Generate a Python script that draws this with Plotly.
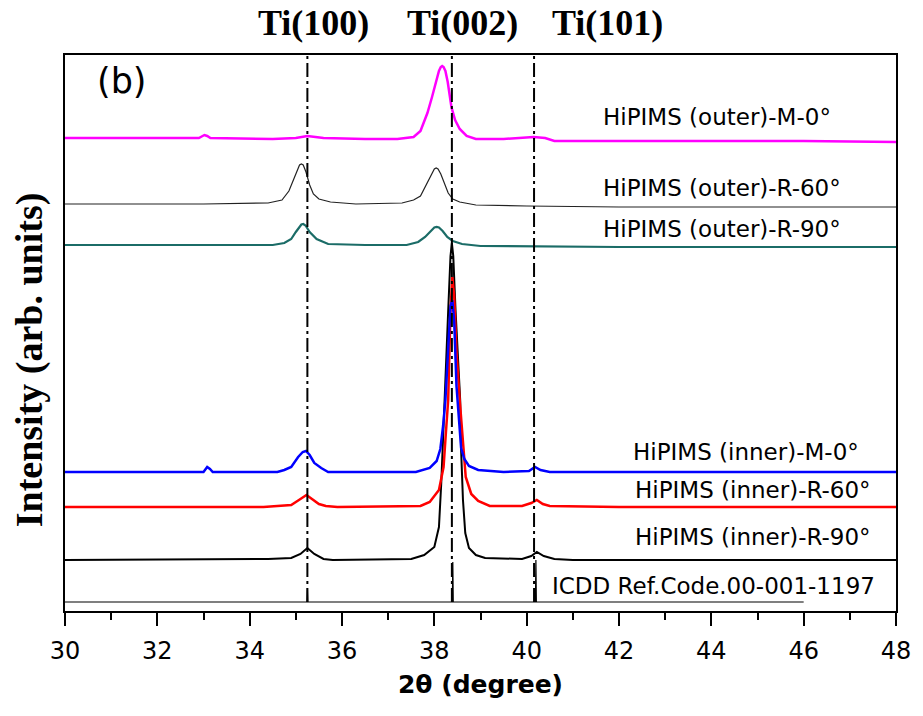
import plotly.graph_objects as go

# ---------------- data (2θ in degrees, intensity in arb. units, stacked) ----------------
x_outer_m0 = [30.0, 31.5, 32.9, 33.02, 33.08, 33.15, 34.5, 35.0, 35.25, 35.6, 36.5, 37.2, 37.55,
              37.7, 37.85, 37.95, 38.02, 38.1, 38.14, 38.17, 38.2, 38.24, 38.29, 38.37, 38.45,
              38.55, 38.7, 38.9, 39.5, 40.0, 40.15, 40.4, 40.6, 42.0, 44.0, 46.0, 48.0]
y_outer_m0 = [473, 473, 473, 476, 475, 473, 472, 473, 475, 473, 472, 472, 474,
              480, 498, 514, 527, 540, 544, 545, 544, 540, 529, 504, 491,
              482, 475, 472, 472, 473, 474, 473, 470, 470, 470, 470, 469]

x_outer_r60 = [30.0, 33.0, 34.4, 34.7, 34.85, 34.95, 35.03, 35.08, 35.12, 35.16, 35.22, 35.3,
               35.38, 35.5, 35.75, 36.3, 37.3, 37.55, 37.7, 37.82, 37.93, 38.0, 38.04, 38.08,
               38.14, 38.22, 38.3, 38.4, 38.55, 38.9, 40.0, 42.0, 48.0]
y_outer_r60 = [407, 407, 408, 411, 420, 432, 442, 446, 447, 446, 439, 426,
               417, 412, 409, 407, 408, 411, 415, 426, 437, 442, 443, 442,
               437, 427, 418, 412, 409, 406, 405, 404, 404]

x_outer_r90 = [30.0, 34.5, 34.75, 34.9, 35.0, 35.07, 35.12, 35.16, 35.21, 35.3, 35.45, 35.7,
               36.5, 37.4, 37.65, 37.8, 37.92, 38.0, 38.05, 38.1, 38.18, 38.28, 38.4, 38.6,
               39.0, 42.0, 48.0]
y_outer_r90 = [366, 366, 368, 372, 379, 384, 386.5, 387, 385.5, 379, 372, 367,
               366, 366, 369, 374, 380, 383.5, 384, 383.5, 380, 374, 370, 367,
               365, 364, 364]

x_inner_m0 = [30.0, 33.0, 33.08, 33.14, 33.2, 34.6, 34.75, 34.9, 35.05, 35.15, 35.22, 35.3, 35.4,
              35.55, 35.7, 37.6, 37.9, 38.05, 38.13, 38.19, 38.24, 38.3, 38.35, 38.39, 38.43,
              38.48, 38.53, 38.58, 38.65, 38.75, 38.95, 39.5, 40.05, 40.18, 40.3, 40.5, 48.0]
y_inner_m0 = [139, 139, 144, 142, 139, 139, 141, 144, 154, 159, 160, 156, 148,
              143, 139, 139, 143, 150, 162, 185, 211, 260, 305, 311, 290,
              225, 190, 163, 152, 145, 141, 139, 140, 144, 141, 139, 139]

x_inner_r60 = [30.0, 34.3, 34.6, 34.9, 35.1, 35.23, 35.35, 35.5, 35.65, 35.9, 37.7, 37.9, 38.1,
               38.2, 38.25, 38.3, 38.35, 38.39, 38.43, 38.48, 38.55, 38.61, 38.68, 38.8, 38.95,
               39.2, 39.9, 40.1, 40.22, 40.35, 40.5, 42.0, 48.0]
y_inner_r60 = [104, 104, 105, 106, 112, 116, 112, 107, 105, 104, 105, 109, 121,
               144, 178, 211, 300, 334, 315, 260, 211, 178, 134, 117, 110,
               105, 105, 108, 111, 107, 105, 104, 104]

x_inner_r90 = [30.0, 34.4, 34.9, 35.1, 35.25, 35.4, 35.6, 35.8, 37.5, 37.78, 38.0, 38.1, 38.15,
               38.19, 38.22, 38.3, 38.35, 38.38, 38.41, 38.46, 38.56, 38.58, 38.62, 38.67, 38.75,
               38.9, 39.1, 39.9, 40.1, 40.22, 40.37, 40.6, 41.0, 48.0]
y_inner_r90 = [51, 52, 53, 57, 63, 57, 52, 51, 52, 56, 64, 84, 128,
               178, 211, 300, 355, 368, 355, 300, 211, 161, 111, 78, 63,
               56, 53, 52, 55, 59, 55, 52, 51, 51]

x_icdd = [30.0, 35.24, 35.25, 35.26, 38.39, 38.40, 38.41, 40.19, 40.20, 40.21, 46.0]
y_icdd = [9, 9, 23, 9, 9, 49, 9, 9, 51, 9, 9]

series_names = ["HiPIMS (outer)-M-0°", "HiPIMS (outer)-R-60°", "HiPIMS (outer)-R-90°",
                "HiPIMS (inner)-M-0°", "HiPIMS (inner)-R-60°", "HiPIMS (inner)-R-90°",
                "ICDD Ref.Code.00-001-1197"]
label_x = [44.12, 44.23, 44.23, 44.76, 44.91, 44.91, 44.05]
label_y = [494, 423.5, 382, 159.5, 121.5, 74.5, 25]

ref_lines = [35.25, 38.38, 40.16]
ref_names = ["Ti(100)", "Ti(002)", "Ti(101)"]
ref_label_x = [35.38, 38.60, 41.74]

x_ticks = [30, 32, 34, 36, 38, 40, 42, 44, 46, 48]

# ---------------- figure ----------------
series = [
    (x_icdd, y_icdd, "black", 1.2),
    (x_outer_r90, y_outer_r90, "#1B6C67", 2.2),
    (x_outer_r60, y_outer_r60, "#222222", 1.2),
    (x_outer_m0, y_outer_m0, "#FF00FF", 2.5),
    (x_inner_r90, y_inner_r90, "black", 2.0),
    (x_inner_r60, y_inner_r60, "#FF0000", 2.5),
    (x_inner_m0, y_inner_m0, "#0000FF", 2.5),
]
names_order = [series_names[6], series_names[2], series_names[1], series_names[0],
               series_names[5], series_names[4], series_names[3]]

fig = go.Figure()
for (xs, ys, col, w), nm in zip(series, names_order):
    fig.add_trace(go.Scatter(x=xs, y=ys, mode="lines", name=nm,
                             line=dict(color=col, width=w), showlegend=False))

for xv in ref_lines:
    fig.add_shape(type="line", xref="x", yref="y", x0=xv, x1=xv, y0=9, y1=556,
                  line=dict(color="black", width=2, dash="14px,4px,3px,4px"))

annotations = []
for nm, xv in zip(ref_names, ref_label_x):
    annotations.append(dict(text="<b>%s</b>" % nm, x=xv, y=1.0576, xref="x", yref="paper",
                            showarrow=False, xanchor="center", yanchor="middle",
                            font=dict(family="Liberation Serif", size=36, color="black")))
for nm, xv, yv in zip(series_names, label_x, label_y):
    annotations.append(dict(text=nm, x=xv, y=yv, xref="x", yref="y", showarrow=False,
                            xanchor="center", yanchor="middle",
                            font=dict(family="DejaVu Sans", size=23, color="black")))
annotations.append(dict(text="(b)", x=31.24, y=530, xref="x", yref="y", showarrow=False,
                        xanchor="center", yanchor="middle",
                        font=dict(family="DejaVu Sans", size=35, color="black")))
annotations.append(dict(text="<b>Intensity (arb. units)</b>", x=-0.043, y=0.4514,
                        xref="paper", yref="paper", showarrow=False, textangle=-90,
                        xanchor="center", yanchor="middle",
                        font=dict(family="Liberation Serif", size=38, color="black")))

fig.update_layout(
    width=923, height=716,
    margin=dict(l=65, r=21, t=55, b=105),
    paper_bgcolor="white", plot_bgcolor="white",
    annotations=annotations,
    xaxis=dict(range=[30, 48], tickvals=x_ticks, ticks="outside", ticklen=13, tickwidth=2,
               tickcolor="black", showline=True, linewidth=2, linecolor="black", mirror=True,
               showgrid=False, zeroline=False, ticklabelstandoff=4,
               tickfont=dict(family="DejaVu Sans", size=24, color="black"),
               minor=dict(dtick=1, tick0=30, ticks="outside", ticklen=7, tickwidth=2,
                          tickcolor="black", showgrid=False),
               title=dict(text="<b>2θ (degree)</b>", standoff=12,
                          font=dict(family="DejaVu Sans", size=25, color="black"))),
    yaxis=dict(range=[0, 556], showticklabels=False, ticks="", showline=True, linewidth=2,
               linecolor="black", mirror=True, showgrid=False, zeroline=False),
)

fig.write_html("out.html")
